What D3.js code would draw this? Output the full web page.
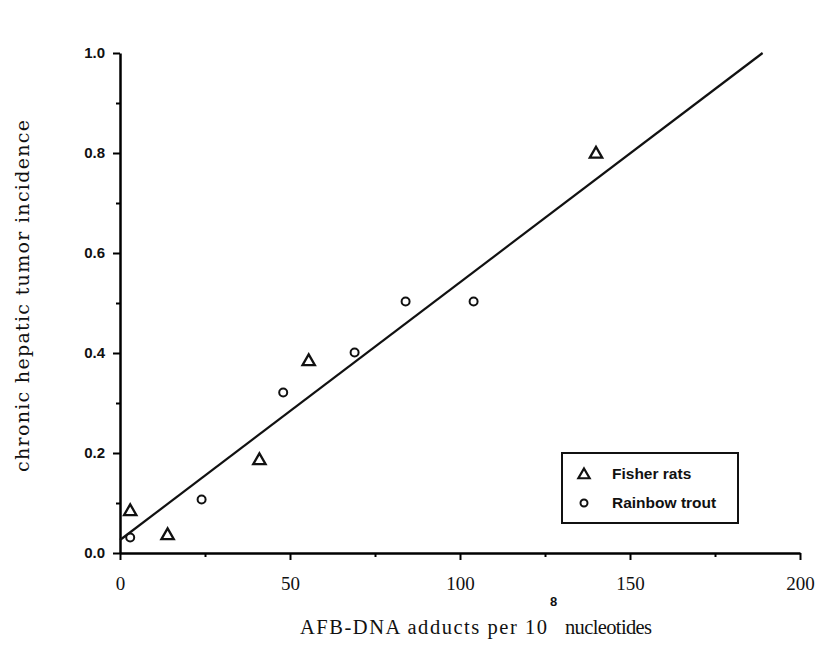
<!DOCTYPE html>
<html>
<head>
<meta charset="utf-8">
<script src="https://cdn.jsdelivr.net/npm/d3@7"></script>
<style>
  body { margin: 0; background: #fff; }
  svg { display: block; }
</style>
</head>
<body>
<svg id="chart" width="827" height="661"></svg>
<script>
// ── data ──
const ratX   = [3, 14, 41, 55.5, 140];
const ratY   = [0.085, 0.037, 0.187, 0.385, 0.80];
const troutX = [3, 24, 48, 69, 84, 104];
const troutY = [0.031, 0.107, 0.321, 0.401, 0.503, 0.503];
// fitted line, its two end points
const fitX = [0, 189];
const fitY = [0.026, 1.0];

const xMajor = [0, 50, 100, 150, 200];
const xMinor = [25, 75, 125, 175];
const yMajor = [0, 0.2, 0.4, 0.6, 0.8, 1.0];
const yMinor = [0.1, 0.3, 0.5, 0.7, 0.9];

const legendItems = ['Fisher rats', 'Rainbow trout'];

// ── layout ──
const svg = d3.select('#chart');
const x = d3.scaleLinear().domain([0, 200]).range([120, 800]);
const y = d3.scaleLinear().domain([0, 1]).range([553, 53]);

const SERIF  = "'Liberation Serif', 'Times New Roman', serif";
const WSERIF = "'DejaVu Serif', serif";
const SANS   = "'Liberation Sans', Arial, sans-serif";

const triangle = d3.symbol().type(d3.symbolTriangle).size(66);

// minor ticks first so the axis line sits on top
svg.append('g')
  .attr('transform', `translate(${x(0)},0)`)
  .call(d3.axisLeft(y).tickValues(yMinor).tickSize(4).tickFormat(''))
  .call(g => g.select('.domain').remove())
  .call(g => g.selectAll('line').attr('stroke-width', 2));

svg.append('g')
  .attr('transform', `translate(0,${y(0)})`)
  .call(d3.axisBottom(x).tickValues(xMinor).tickSize(4).tickFormat(''))
  .call(g => g.select('.domain').remove())
  .call(g => g.selectAll('line').attr('stroke-width', 2));

// y axis
svg.append('g')
  .attr('transform', `translate(${x(0)},0)`)
  .call(d3.axisLeft(y).tickValues(yMajor).tickSize(7).tickSizeOuter(0)
    .tickPadding(8).tickFormat(d3.format('.1f')))
  .call(g => g.select('.domain').attr('stroke-width', 2.5))
  .call(g => g.selectAll('line').attr('stroke-width', 2))
  .call(g => g.selectAll('text')
    .attr('font-family', SANS)
    .attr('font-weight', 'bold')
    .attr('font-size', 15)
    .attr('fill', '#111'));

// x axis
svg.append('g')
  .attr('transform', `translate(0,${y(0)})`)
  .call(d3.axisBottom(x).tickValues(xMajor).tickSize(7).tickSizeOuter(0)
    .tickPadding(17).tickFormat(d3.format('d')))
  .call(g => g.select('.domain').attr('stroke-width', 2.5))
  .call(g => g.selectAll('line').attr('stroke-width', 2))
  .call(g => g.selectAll('text')
    .attr('font-family', SERIF)
    .attr('font-size', 19)
    .attr('fill', '#111'));

// fitted line
svg.append('path')
  .datum(d3.zip(fitX, fitY))
  .attr('fill', 'none')
  .attr('stroke', '#111')
  .attr('stroke-width', 2.2)
  .attr('d', d3.line().x(d => x(d[0])).y(d => y(d[1])));

// Fisher rats
svg.append('g').selectAll('path')
  .data(d3.zip(ratX, ratY))
  .join('path')
  .attr('transform', d => `translate(${x(d[0])},${y(d[1]) + 1})`)
  .attr('d', triangle)
  .attr('fill', 'none')
  .attr('stroke', '#111')
  .attr('stroke-width', 2.3);

// Rainbow trout
svg.append('g').selectAll('circle')
  .data(d3.zip(troutX, troutY))
  .join('circle')
  .attr('cx', d => x(d[0]))
  .attr('cy', d => y(d[1]))
  .attr('r', 4)
  .attr('fill', 'none')
  .attr('stroke', '#111')
  .attr('stroke-width', 2);

// legend
const lg = svg.append('g').attr('transform', 'translate(562,453)');
lg.append('rect')
  .attr('width', 176).attr('height', 70)
  .attr('fill', '#fff').attr('stroke', '#111').attr('stroke-width', 2);
legendItems.forEach((name, i) => {
  const cy = 21 + i * 29;
  if (i === 0) {
    lg.append('path')
      .attr('transform', `translate(22,${cy + 1})`)
      .attr('d', d3.symbol().type(d3.symbolTriangle).size(55))
      .attr('fill', 'none').attr('stroke', '#111').attr('stroke-width', 2.2);
  } else {
    lg.append('circle')
      .attr('cx', 22).attr('cy', cy).attr('r', 3.5)
      .attr('fill', 'none').attr('stroke', '#111').attr('stroke-width', 2);
  }
  lg.append('text')
    .attr('x', 50).attr('y', cy + 5)
    .attr('font-family', SANS)
    .attr('font-weight', 'bold')
    .attr('font-size', 15.5)
    .attr('fill', '#111')
    .text(name);
});

// axis titles
const xt = svg.append('text')
  .attr('y', 634)
  .attr('font-family', SERIF)
  .attr('font-size', 20.5)
  .attr('fill', '#111');
xt.append('tspan').attr('x', 300)
  .attr('textLength', 247).attr('lengthAdjust', 'spacing')
  .text('AFB-DNA adducts per 10');
xt.append('tspan')
  .attr('x', 550).attr('dy', -28)
  .attr('font-family', SANS)
  .attr('font-weight', 'bold')
  .attr('font-size', 13)
  .text('8');
xt.append('tspan').attr('x', 565).attr('dy', 28)
  .attr('textLength', 87).attr('lengthAdjust', 'spacing')
  .text('nucleotides');

svg.append('text')
  .attr('transform', 'translate(29,296) rotate(-90)')
  .attr('text-anchor', 'middle')
  .attr('font-family', WSERIF)
  .attr('font-size', 19)
  .attr('textLength', 352)
  .attr('lengthAdjust', 'spacing')
  .attr('fill', '#111')
  .text('chronic hepatic tumor incidence');
</script>
</body>
</html>
